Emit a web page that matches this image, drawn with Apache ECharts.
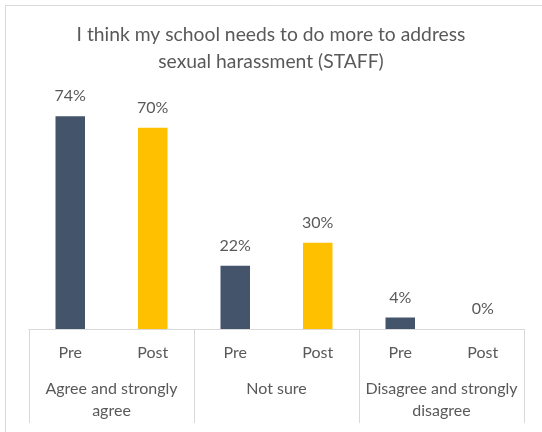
<!DOCTYPE html>
<html>
<head>
<meta charset="utf-8">
<script src="https://cdn.jsdelivr.net/npm/echarts@6/dist/echarts.min.js"></script>
<style>
  html, body { margin: 0; padding: 0; background: #ffffff; }
  #chart { width: 542px; height: 432px; }
</style>
</head>
<body>
<div id="chart"></div>
<script>
// Response groups and the two survey rounds
const groups = ['Agree and strongly\nagree', 'Not sure', 'Disagree and strongly\ndisagree'];
const periods = ['Pre', 'Post'];
// Share of staff (%) in each group
const preValues = [74, 22, 4];
const postValues = [70, 30, 0];

const colors = { Pre: '#44546A', Post: '#FFC000' };
const textColor = '#595959';
const lineColor = '#D9D9D9';
const font = 'Lato, "Open Sans", sans-serif';

// Flatten group x period into one category row
const periodCats = [];
const barData = [];
groups.forEach((g, i) => {
  periods.forEach(p => {
    periodCats.push(p);
    const v = p === 'Pre' ? preValues[i] : postValues[i];
    barData.push({ value: v, itemStyle: { color: colors[p] } });
  });
});

const chart = echarts.init(document.getElementById('chart'), null, { renderer: 'canvas' });
chart.setOption({
  animation: false,
  backgroundColor: '#ffffff',
  title: {
    text: 'I think my school needs to do more to address\nsexual harassment (STAFF)',
    left: 'center',
    top: 16,
    textStyle: { color: textColor, fontFamily: font, fontWeight: 'normal', fontSize: 19.3, lineHeight: 27 }
  },
  graphic: [{
    type: 'rect',
    shape: { x: 5.5, y: 5.5, width: 600, height: 500 },
    style: { fill: null, stroke: lineColor, lineWidth: 1 },
    silent: true,
    z: -1
  }],
  grid: { left: 29, right: 18, top: 99, bottom: 103 },
  xAxis: [{
    type: 'category',
    data: periodCats,
    position: 'bottom',
    axisLine: { show: true, lineStyle: { color: lineColor, width: 1 } },
    axisTick: { show: false },
    axisLabel: { interval: 0, color: textColor, fontFamily: font, fontSize: 16, margin: 16 }
  }, {
    type: 'category',
    data: groups,
    position: 'bottom',
    offset: 0,
    axisLine: { show: false },
    axisTick: { show: true, interval: 0, length: 94, lineStyle: { color: lineColor, width: 1 } },
    axisLabel: { interval: 0, color: textColor, fontFamily: font, fontSize: 16, lineHeight: 22, margin: 49 }
  }],
  yAxis: { type: 'value', min: 0, max: 80, show: false, splitLine: { show: false } },
  series: [{
    type: 'bar',
    xAxisIndex: 0,
    data: barData,
    barWidth: 29.5,
    label: {
      show: true,
      position: 'top',
      distance: 12,
      formatter: p => p.value + '%',
      color: textColor,
      fontFamily: font,
      fontSize: 16
    }
  }]
});
</script>
</body>
</html>
